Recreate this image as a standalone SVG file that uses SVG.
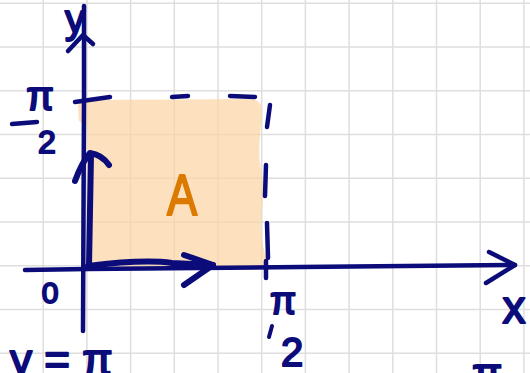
<svg xmlns="http://www.w3.org/2000/svg" width="530" height="373" viewBox="0 0 530 373">
<style>
.grid{stroke:#dedede;stroke-width:1.5;fill:none}
.ink{stroke:#0b0b7a;stroke-linecap:round;stroke-linejoin:round;fill:none}
.ax{stroke-width:4.5}
.vec{stroke-width:6}
.dash{stroke-width:4.5}
.lbl{font-family:"Liberation Sans",Arial,sans-serif;fill:#0b0b7a;stroke:#0b0b7a;stroke-width:2;stroke-linejoin:round}
</style>
<rect width="530" height="373" fill="#ffffff"/>
<g id="grid" class="grid">
<path d="M43.2,0V373M86.9,0V373M130.6,0V373M174.3,0V373M218,0V373M261.7,0V373M305.4,0V373M349.1,0V373M392.8,0V373M436.5,0V373M480.2,0V373M523.9,0V373"/>
<path d="M0,3.3H530M0,47H530M0,90.8H530M0,134.5H530M0,178.3H530M0,222H530M0,265.8H530M0,309.5H530M0,353.3H530"/>
</g>
<g id="region-A">
<path d="M78,106 Q77,100 90,100 L250,99 Q262,99 262,112 C260,140 257,152 262,175 C266,198 258,220 262,240 C264,254 270,262 266,267 L88,268 L87,127 L79,121 Z" fill="#fcd4a4" fill-opacity="0.7"/>
<text x="182" y="215" text-anchor="middle" font-family="'Liberation Sans',Arial,sans-serif" font-size="58" fill="#dc7a00" stroke="#dc7a00" stroke-width="2" stroke-linejoin="round" transform="translate(182 0) scale(0.78 1) translate(-182 0)">A</text>
</g>
<g id="connectors">
<g id="y-axis" class="ink ax">
<path d="M84,6 L84,100 L83,331"/>
<path d="M68,51 L83,35 L93,44"/>
</g>
<g id="x-axis" class="ink ax">
<path d="M25,270 L88,269 L300,267 L515,265"/>
<path d="M489,252 L515,265 L486,283"/>
</g>
<g id="vector-x" class="ink vec">
<path d="M88,266 C120,262 150,260 172,263 L213,265"/>
<path d="M184,255 L213,265 L184,285"/>
</g>
<g id="vector-y" class="ink vec">
<path d="M89,266 L91,155"/>
<path d="M75,181 C79,170 84,160 90,153 C98,154 104,158 109,165"/>
</g>
<g id="dashed-bounds" class="ink dash">
<path d="M75,102 L110,97"/>
<path d="M172,97 L188,96"/>
<path d="M230,96 L255,97"/>
<path d="M270,105 L267,127"/>
<path d="M266,165 L265,196"/>
<path d="M267,223 L268,258"/>
<path d="M266,261 L266,278"/>
</g>
</g>
<g id="labels">
<text class="lbl" x="65" y="33" font-size="40">y</text>
<text class="lbl" x="514" y="323" font-size="46" text-anchor="middle">x</text>
<text class="lbl" x="50" y="303" font-size="30" text-anchor="middle">0</text>
<g id="label-pi-half-y">
<text class="lbl" x="40" y="110" font-size="40" text-anchor="middle">π</text>
<path class="ink" stroke-width="4.5" d="M12,124 L37,122"/>
<text class="lbl" x="47" y="153" font-size="32" text-anchor="middle">2</text>
</g>
<g id="label-pi-half-x">
<text class="lbl" x="283" y="314" font-size="38" text-anchor="middle">π</text>
<path class="ink" stroke-width="4" d="M272,326 L269,337"/>
<text class="lbl" x="292" y="366" font-size="40" text-anchor="middle">2</text>
</g>
<text class="lbl" x="10" y="375" font-size="44">y = π</text>
<text class="lbl" x="472" y="389" font-size="44">π</text>
</g>
</svg>
